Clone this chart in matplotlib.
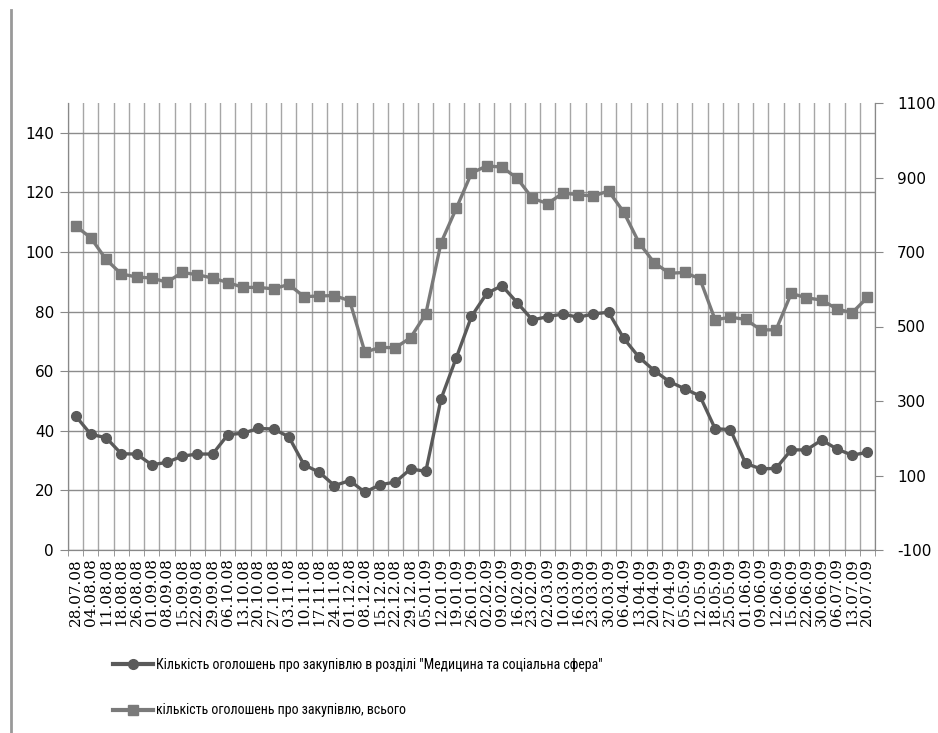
import matplotlib
matplotlib.use('Agg')
import matplotlib.pyplot as plt
from matplotlib.lines import Line2D
import numpy as np

dates = ['28.07.08', '04.08.08', '11.08.08', '18.08.08', '26.08.08', '01.09.08', '08.09.08',
         '15.09.08', '22.09.08', '29.09.08', '06.10.08', '13.10.08', '20.10.08', '27.10.08',
         '03.11.08', '10.11.08', '17.11.08', '24.11.08', '01.12.08', '08.12.08', '15.12.08',
         '22.12.08', '29.12.08', '05.01.09', '12.01.09', '19.01.09', '26.01.09', '02.02.09',
         '09.02.09', '16.02.09', '23.02.09', '02.03.09', '10.03.09', '16.03.09', '23.03.09',
         '30.03.09', '06.04.09', '13.04.09', '20.04.09', '27.04.09', '05.05.09', '12.05.09',
         '18.05.09', '25.05.09', '01.06.09', '09.06.09', '12.06.09', '15.06.09', '22.06.09',
         '30.06.09', '06.07.09', '13.07.09', '20.07.09']

# медицина та соціальна сфера (ліва вісь)
medical = [45.0, 38.8, 37.7, 32.3, 32.2, 28.6, 29.4, 31.5, 32.2, 32.2,
           38.7, 39.2, 40.8, 40.6, 38.0, 28.6, 26.1, 21.6, 23.3, 19.4,
           21.9, 22.8, 27.2, 26.4, 50.7, 64.5, 78.4, 86.1, 88.7, 83.0,
           77.2, 78.3, 79.2, 78.1, 79.2, 79.8, 71.0, 64.7, 60.2, 56.5,
           54.1, 51.7, 40.7, 40.4, 29.1, 27.2, 27.4, 33.6, 33.6, 36.9,
           33.9, 31.8, 32.8]

# всього (права вісь)
total = [770, 738, 680, 641, 633, 630, 619, 645, 639, 630,
         618, 605, 605, 601, 613, 580, 582, 583, 569, 431,
         444, 443, 470, 534, 725, 817, 912, 931, 928, 898,
         844, 830, 858, 854, 850, 864, 807, 725, 671, 643,
         645, 628, 518, 525, 519, 491, 491, 589, 577, 571,
         547, 537, 578]

label_med = 'Кількість оголошень про закупівлю в розділі "Медицина та соціальна сфера"'
label_tot = 'кількість оголошень про закупівлю, всього'

c_med = '#5a5a5a'
c_tot = '#7a7a7a'

plt.rcParams['axes.unicode_minus'] = False

fig = plt.figure(figsize=(9.38, 7.33), dpi=100)
ax = fig.add_axes([68/938, 1-550/733, (875-68)/938, (550-103)/733])
ax2 = ax.twinx()

x = np.arange(len(dates))
ax.plot(x, medical, color=c_med, lw=2.4, marker='o', ms=7, zorder=5)
ax2.plot(x, total, color=c_tot, lw=2.4, marker='s', ms=7, zorder=5)

ax.set_xlim(-0.5, len(dates) - 0.5)
ax.set_ylim(0, 150)
ax.set_yticks(np.arange(0, 141, 20))
ax2.set_ylim(-100, 1100)
ax2.set_yticks(np.arange(-100, 1101, 200))

ax.set_xticks(x)
ax.set_xticklabels(dates, rotation=90, fontsize=11, fontfamily='DejaVu Serif')
ax.set_xticks(np.arange(-0.5, len(dates)), minor=True)
ax.tick_params(axis='x', which='major', length=0, pad=6)
ax.tick_params(axis='x', which='minor', length=4, color='#888888', direction='out')
ax.tick_params(axis='y', length=6, color='#888888', labelsize=11, pad=4)
ax2.tick_params(axis='y', length=6, color='#888888', labelsize=11, pad=10)

ax.grid(True, axis='x', which='minor', color='#a6a6a6', lw=1)
ax.grid(True, axis='y', which='major', color='#8c8c8c', lw=1)
ax.set_axisbelow(True)

for a in (ax, ax2):
    a.spines['top'].set_visible(False)
    a.spines['left'].set_color('#888888')
    a.spines['right'].set_color('#888888')
    a.spines['bottom'].set_color('#888888')

# легенда
narrow = ['Liberation Sans Narrow', 'Roboto Condensed', 'PT Sans Narrow',
          'Open Sans Condensed', 'DejaVu Sans']
handles = [Line2D([], [], color=c_med, lw=3, marker='o', ms=7),
           Line2D([], [], color=c_tot, lw=3, marker='s', ms=7)]
fig.legend(handles, [label_med, label_tot], loc='upper left',
           bbox_to_anchor=(100/938, 1-645/733), frameon=False,
           handlelength=2.9, handletextpad=0.2, labelspacing=2.3,
           prop={'family': narrow, 'size': 10})

# рамка зліва
fig.add_artist(Line2D([11/938, 11/938], [0, 1-10/733], color='#999999', lw=2,
                      transform=fig.transFigure))

fig.savefig('out.png', dpi=100, facecolor='white')
